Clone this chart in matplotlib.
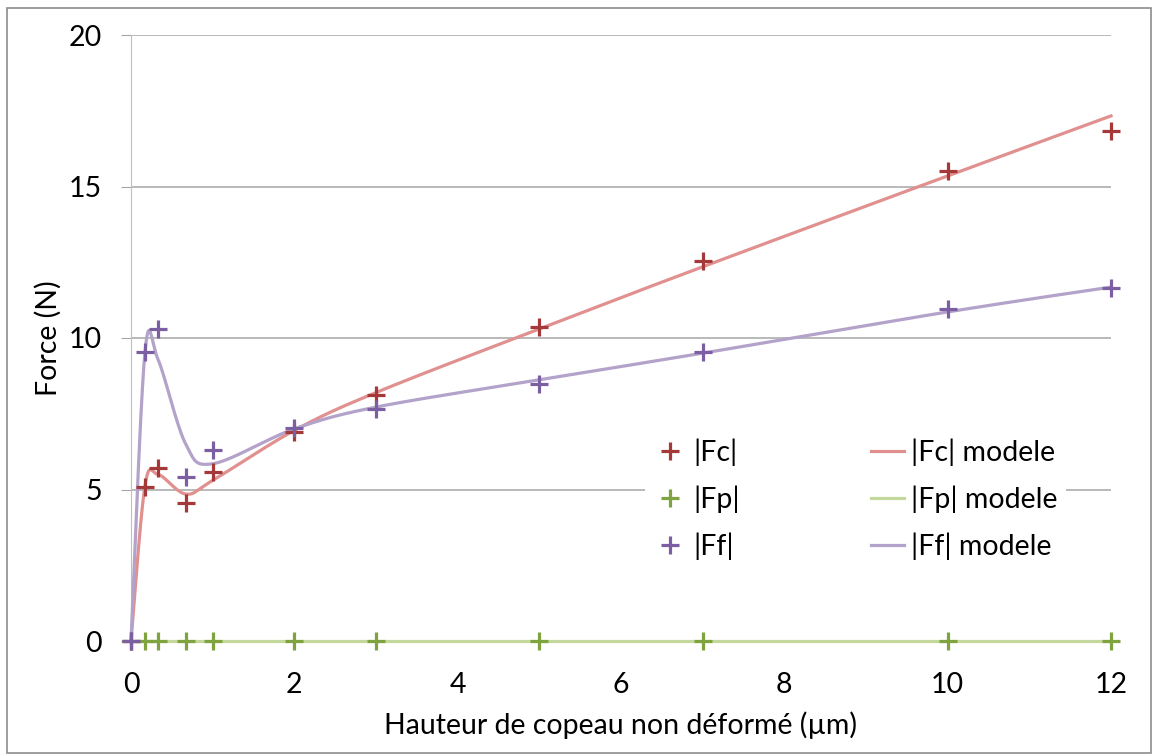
import numpy as np
import matplotlib
matplotlib.use("Agg")
import matplotlib.pyplot as plt
from matplotlib.patches import Rectangle

# measured data
h = [0, 0.17, 0.33, 0.67, 1, 2, 3, 5, 7, 10, 12]
fc = [0, 5.08, 5.7, 4.55, 5.58, 6.9, 8.12, 10.36, 12.54, 15.5, 16.83]
fp = [0, 0, 0, 0, 0, 0, 0, 0, 0, 0, 0]
ff = [0, 9.54, 10.3, 5.41, 6.3, 7.03, 7.66, 8.48, 9.54, 10.96, 11.65]

# model values at the same heights
fc_mod = [0, 5.1, 5.5, 4.85, 5.3, 6.95, 8.2, 10.3, 12.35, 15.35, 17.33]
fp_mod = [0, 0, 0, 0, 0, 0, 0, 0, 0, 0, 0]
ff_mod = [0, 9.5, 9.3, 6.5, 5.85, 7.0, 7.72, 8.62, 9.5, 10.86, 11.68]

C_FC, C_FP, C_FF = "#A5393A", "#7FA33F", "#7C5FA3"
L_FC, L_FP, L_FF = "#E0918F", "#C4D89E", "#B3A2C9"
FS = 20.5


def smooth(x, y, n=30):
    """Excel-like smoothed line (cubic Bezier, Catmull-Rom control points)."""
    p = np.column_stack([x, y]).astype(float)
    out = [p[0]]
    t = np.linspace(0, 1, n)[1:, None]
    for i in range(len(p) - 1):
        p0 = p[i - 1] if i > 0 else p[i]
        p1, p2 = p[i], p[i + 1]
        p3 = p[i + 2] if i + 2 < len(p) else p[i + 1]
        c1 = p1 + (p2 - p0) / 6
        c2 = p2 - (p3 - p1) / 6
        seg = ((1 - t) ** 3 * p1 + 3 * (1 - t) ** 2 * t * c1
               + 3 * (1 - t) * t ** 2 * c2 + t ** 3 * p2)
        out.extend(seg)
    out = np.array(out)
    return out[:, 0], out[:, 1]


plt.rcParams["font.family"] = ["Lato", "DejaVu Sans"]

fig = plt.figure(figsize=(11.53, 7.56), dpi=100)
ax = fig.add_axes([131 / 1153, 1 - 641 / 756, 980 / 1153, 606 / 756])

ms, mew, lw = 13, 2.3, 2.3
hm = []
for y, c, lab in [(fc, C_FC, "|Fc|"), (fp, C_FP, "|Fp|"), (ff, C_FF, "|Ff|")]:
    hm.append(ax.plot(h, y, "+", color=c, ms=ms, mew=mew, ls="none",
                      label=lab, zorder=5, clip_on=False)[0])
hl = []
for y, c, lab in [(fc_mod, L_FC, "|Fc| modele"), (fp_mod, L_FP, "|Fp| modele"),
                  (ff_mod, L_FF, "|Ff| modele")]:
    sx, sy = smooth(h, y)
    hl.append(ax.plot(sx, sy, color=c, lw=lw, label=lab, zorder=4,
                      clip_on=False)[0])

ax.set_xlim(0, 12)
ax.set_ylim(0, 20)
ax.set_xticks(range(0, 13, 2))
ax.set_yticks(range(0, 21, 5))
ax.yaxis.grid(True, color="#A6A6A6", lw=1.1)
ax.set_axisbelow(True)
for s in ["top", "right"]:
    ax.spines[s].set_visible(False)
ax.spines["left"].set_color("#BFBFBF")
ax.spines["bottom"].set_color("#BFBFBF")
ax.tick_params(axis="y", length=7, color="#A6A6A6", labelsize=FS, pad=14)
ax.tick_params(axis="x", length=0, labelsize=FS, pad=22)
ax.set_xlabel("Hauteur de copeau non déformé (µm)", fontsize=FS, labelpad=10)
ax.set_ylabel("Force (N)", fontsize=FS, labelpad=5)

leg = ax.legend(hm + hl, [l.get_label() for l in hm + hl], ncol=2,
                loc="upper left", bbox_to_anchor=(0.51, 0.372),
                frameon=True, fancybox=False, fontsize=FS,
                handlelength=1.15, handletextpad=0.25, columnspacing=4.6,
                labelspacing=0.69, borderpad=0.3)
leg.get_frame().set_edgecolor("none")
leg.get_frame().set_facecolor("white")
leg.get_frame().set_alpha(1)

fig.patches.append(Rectangle((7 / 1153, 0.004), 1 - 9 / 1153, 1 - 8 / 756 - 0.004,
                             transform=fig.transFigure, fill=False,
                             edgecolor="#8C8C8C", lw=1.2))

fig.savefig("out.png", dpi=100)
